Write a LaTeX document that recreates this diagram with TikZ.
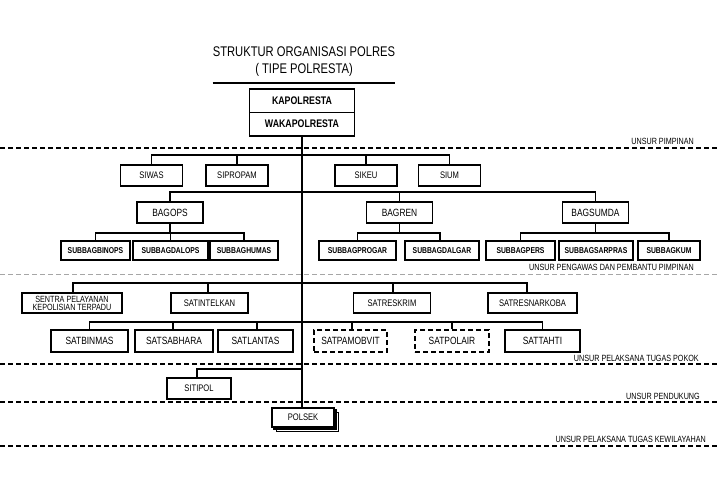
\documentclass[tikz,border=0pt]{standalone}
\usepackage{fontspec}
\setmainfont{Liberation Sans}[FakeStretch=0.8]
\usetikzlibrary{positioning, shadows}
\newcommand{\sz}[1]{\fontsize{#1}{#1}\selectfont}
\tikzstyle{title} = [align=center, inner sep=0pt, font=\sz{14}]
\tikzstyle{chief} = [rectangle, draw, line width=1.5pt, outer sep=0pt, inner sep=0pt,
                  minimum width=105pt, minimum height=23.5pt, font=\bfseries\sz{11}]
\tikzstyle{unit} = [rectangle, draw, line width=1.5pt, fill=white, inner sep=0pt, align=center]
\tikzstyle{staff} = [unit, minimum width=62pt, minimum height=21pt, font=\sz{9.5}]
\tikzstyle{bureau} = [unit, minimum width=66pt, minimum height=21pt, font=\sz{10.5}]
\tikzstyle{subunit} = [unit, minimum height=19pt, font=\bfseries\sz{8.5}]
\tikzstyle{corps} = [unit, minimum height=20pt, font=\sz{9.5}]
\tikzstyle{troop} = [unit, minimum height=22pt, font=\sz{10.5}]
\tikzstyle{planned} = [dash pattern=on 5pt off 3pt]
\tikzstyle{line} = [draw, line width=1.1pt]
\tikzstyle{zone} = [draw, line width=1.2pt, dash pattern=on 5pt off 3pt]
\tikzstyle{zonelabel} = [anchor=east, inner sep=0pt, font=\sz{9}]

\begin{document}
\begin{tikzpicture}[x=1pt, y=-1pt]
    \useasboundingbox (0,0) rectangle (720,493);
    \node [title] (title) at (304,62) {STRUKTUR ORGANISASI POLRES\\[3pt]( TIPE POLRESTA)};
    \draw [line] ([yshift=-6pt]title.south west) -- ([yshift=-6pt]title.south east);

    \node [chief] (kapol) at (302,100.5) {KAPOLRESTA};
    \node [chief, below=0pt of kapol] (waka) {WAKAPOLRESTA};

    % zones
    \draw [zone] (0,148) -- (720,148);
    \draw [zone, line width=0.8pt, gray!70] (0,274) -- (720,274);
    \draw [zone] (0,364) -- (720,364);
    \draw [zone] (0,402) -- (720,402);
    \draw [zone] (0,446) -- (720,446);
    \node [zonelabel] (lpim) at (694,141) {UNSUR PIMPINAN};
    \node [zonelabel] (lpeng) at (694,267) {UNSUR PENGAWAS DAN PEMBANTU PIMPINAN};
    \node [zonelabel] (lpokok) at (699,358) {UNSUR PELAKSANA TUGAS POKOK};
    \node [zonelabel] (lduk) at (700,396) {UNSUR PENDUKUNG};
    \node [zonelabel] (lwil) at (706,439) {UNSUR PELAKSANA TUGAS KEWILAYAHAN};

    % staff
    \coordinate (sibus) at (303,155);
    \node [staff] (siwas) at (151.5,175.5) {SIWAS};
    \node [staff] (sipropam) at (237,175.5) {SIPROPAM};
    \node [staff] (sikeu) at (366,175.5) {SIKEU};
    \node [staff] (sium) at (449.5,175.5) {SIUM};

    \coordinate (bagbus) at (303,192);
    \node [bureau] (bagops) at (170,212.5) {BAGOPS};
    \node [bureau] (bagren) at (399.5,212.5) {BAGREN};
    \node [bureau] (bagsumda) at (595.5,212.5) {BAGSUMDA};

    \coordinate (opsbus) at (170,233);
    \coordinate (renbus) at (399.5,233);
    \coordinate (sumdabus) at (595.5,233);
    \node [subunit, minimum width=69pt] (binops) at (95.5,250.5) {SUBBAGBINOPS};
    \node [subunit, minimum width=75pt] (dalops) at (170.5,250.5) {SUBBAGDALOPS};
    \node [subunit, minimum width=68pt] (humas) at (244,250.5) {SUBBAGHUMAS};
    \node [subunit, minimum width=77pt] (progar) at (357.5,250.5) {SUBBAGPROGAR};
    \node [subunit, minimum width=74pt] (dalgar) at (442,250.5) {SUBBAGDALGAR};
    \node [subunit, minimum width=69pt] (pers) at (520.5,250.5) {SUBBAGPERS};
    \node [subunit, minimum width=74pt] (sarpras) at (596,250.5) {SUBBAGSARPRAS};
    \node [subunit, minimum width=62pt] (kum) at (669,250.5) {SUBBAGKUM};

    % line units
    \coordinate (satbus) at (303,283);
    \node [corps, minimum width=100pt, font=\sz{9}] (spkt) at (72,303)
          {SENTRA PELAYANAN\\[-1pt]KEPOLISIAN TERPADU};
    \node [corps, minimum width=77pt] (intel) at (209.5,303) {SATINTELKAN};
    \node [corps, minimum width=77pt] (reskrim) at (392,303) {SATRESKRIM};
    \node [corps, minimum width=89pt] (narkoba) at (532.5,303) {SATRESNARKOBA};

    \coordinate (troopbus) at (303,322);
    \node [troop, minimum width=77pt] (binmas) at (89.5,341) {SATBINMAS};
    \node [troop, minimum width=78pt] (sabhara) at (174,341) {SATSABHARA};
    \node [troop, minimum width=75pt] (lantas) at (255.5,341) {SATLANTAS};
    \node [troop, planned, minimum width=73pt] (pamobvit) at (350.5,341) {SATPAMOBVIT};
    \node [troop, planned, minimum width=74pt] (polair) at (452,341) {SATPOLAIR};
    \node [troop, minimum width=75pt] (tahti) at (542.5,341) {SATTAHTI};

    % support and territory
    \coordinate (supbus) at (303,369);
    \node [unit, minimum width=64pt, minimum height=21pt, font=\sz{9.5}] (sitipol) at (199,388.5) {SITIPOL};
    \node [unit, minimum width=62pt, minimum height=19pt, font=\sz{9.5},
           double copy shadow={shadow xshift=2.2pt, shadow yshift=-2.2pt}] (polsek) at (303,417.5) {POLSEK};

    \draw [line] (waka.south) -- (waka.south |- polsek.north);
    \draw [line] (siwas.north) |- (sibus) -| (sium.north);
    \draw [line] (sipropam.north) -- (sipropam.north |- sibus);
    \draw [line] (sikeu.north) -- (sikeu.north |- sibus);
    \draw [line] (bagops.north) |- (bagbus) -| (bagsumda.north);
    \draw [line] (bagren.north) -- (bagren.north |- bagbus);
    \draw [line] (bagops.south) -- (opsbus);
    \draw [line] (binops.north) |- (opsbus) -| (humas.north);
    \draw [line] (dalops.north) -- (dalops.north |- opsbus);
    \draw [line] (bagren.south) -- (renbus);
    \draw [line] (progar.north) |- (renbus) -| ([xshift=-2pt]dalgar.north);
    \draw [line] (bagsumda.south) -- (sumdabus);
    \draw [line] (pers.north) |- (sumdabus) -| (kum.north);
    \draw [line] ([xshift=1pt]spkt.north) |- (satbus) -| ([xshift=-5.5pt]narkoba.north);
    \draw [line] ([xshift=-1.5pt]intel.north) -- ([xshift=-1.5pt]intel.north |- satbus);
    \draw [line] ([xshift=1pt]reskrim.north) -- ([xshift=1pt]reskrim.north |- satbus);
    \draw [line] (binmas.north) |- (troopbus) -| (tahti.north);
    \draw [line] ([xshift=-1pt]sabhara.north) -- ([xshift=-1pt]sabhara.north |- troopbus);
    \draw [line] ([xshift=1.5pt]lantas.north) -- ([xshift=1.5pt]lantas.north |- troopbus);
    \draw [line] ([xshift=1.5pt]pamobvit.north) -- ([xshift=1.5pt]pamobvit.north |- troopbus);
    \draw [line] (polair.north) -- (polair.north |- troopbus);
    \draw [line] ([xshift=-2pt]sitipol.north) |- (supbus);
\end{tikzpicture}
\end{document}
